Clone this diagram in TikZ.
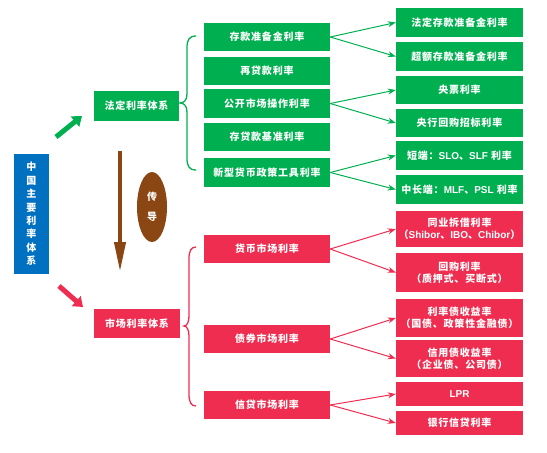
\documentclass[tikz,border=0pt]{standalone}
\usepackage{fontspec}
\setmainfont{Noto Sans CJK SC}[LetterSpace=8]
\newfontfamily\lat{Liberation Sans}
\usetikzlibrary{arrows.meta,shapes.geometric}
\definecolor{cgreen}{RGB}{0,176,80}
\definecolor{cred}{RGB}{239,45,80}
\definecolor{cblue}{RGB}{0,112,192}
\definecolor{cbrown}{RGB}{139,71,19}
\tikzset{
  box/.style={inner sep=0pt, text=white, font=\fontsize{10}{12}\selectfont\bfseries, align=center},
  gbox/.style={box, fill=cgreen},
  rbox/.style={box, fill=cred},
  lvtwo/.style={minimum width=126pt},
  lvthree/.style={minimum width=127pt},
  gcon/.style={draw=cgreen, line width=1pt, -{Stealth[length=8pt,width=6pt]}},
  rcon/.style={draw=cred, line width=1pt, -{Stealth[length=8pt,width=6pt]}},
  bigarrow/.style={line width=5pt, -{Triangle[length=9pt,width=13pt]}},
}
\begin{document}
\begin{tikzpicture}[x=1pt,y=-1pt]
\useasboundingbox (0,0) rectangle (547,453);
% root
\node[box, fill=cblue, minimum width=35pt, minimum height=120pt, font=\fontsize{10}{13.4}\selectfont\bfseries] (root) at (31.5,214) {中\\国\\主\\要\\利\\率\\体\\系};
% level 1
\node[gbox, minimum width=85pt, minimum height=30pt] (fd) at (136.5,106) {法定利率体系};
\node[rbox, minimum width=86pt, minimum height=29pt] (sc) at (137,323.5) {市场利率体系};
% level 2 green
\node[gbox, lvtwo, minimum height=28pt] (g1) at (267,37) {存款准备金利率};
\node[gbox, lvtwo, minimum height=28pt] (g2) at (267,71) {再贷款利率};
\node[gbox, lvtwo, minimum height=29pt] (g3) at (267,103.5) {公开市场操作利率};
\node[gbox, lvtwo, minimum height=28pt] (g4) at (267,137) {存贷款基准利率};
\node[gbox, lvtwo, minimum height=29pt] (g5) at (267,172.5) {新型货币政策工具利率};
% level 3 green
\node[gbox, lvthree, minimum height=29pt] (h1) at (459.5,22.5) {法定存款准备金利率};
\node[gbox, lvthree, minimum height=29pt] (h2) at (459.5,56.5) {超额存款准备金利率};
\node[gbox, lvthree, minimum height=28pt] (h3) at (459.5,90) {央票利率};
\node[gbox, lvthree, minimum height=28pt] (h4) at (459.5,123) {央行回购招标利率};
\node[gbox, lvthree, minimum height=29pt] (h5) at (459.5,155.5) {短端：{\lat SLO}、{\lat SLF} 利率};
\node[gbox, lvthree, minimum height=29pt] (h6) at (459.5,189.5) {中长端：{\lat MLF}、{\lat PSL} 利率};
% level 2 red
\node[rbox, lvtwo, minimum height=28pt] (r1) at (267,249) {货币市场利率};
\node[rbox, lvtwo, minimum height=28pt] (r2) at (267,339) {债券市场利率};
\node[rbox, lvtwo, minimum height=28pt] (r3) at (267,405) {信贷市场利率};
% level 3 red
\node[rbox, lvthree, minimum height=36pt] (s1) at (459.5,229) {同业拆借利率\\（{\lat Shibor}、{\lat IBO}、{\lat Chibor}）};
\node[rbox, lvthree, minimum height=39pt] (s2) at (459.5,272.5) {回购利率\\（质押式、买断式）};
\node[rbox, lvthree, minimum height=38pt] (s3) at (459.5,318) {利率债收益率\\（国债、政策性金融债）};
\node[rbox, lvthree, minimum height=37pt] (s4) at (459.5,358.5) {信用债收益率\\（企业债、公司债）};
\node[rbox, lvthree, minimum height=24pt] (s5) at (459.5,394) {{\lat LPR}};
\node[rbox, lvthree, minimum height=24pt] (s6) at (459.5,423) {银行信贷利率};
% transmission ellipse
\node[ellipse, fill=cbrown, inner sep=0pt, minimum width=30pt, minimum height=70pt, text=white, font=\fontsize{10}{20}\selectfont\bfseries, align=center] (cd) at (152,207) {传\\导};
% big arrows
\coordinate (ga1) at (56,137);
\coordinate (ga2) at (82,116);
\coordinate (ra1) at (59,286);
\coordinate (ra2) at (83,307);
\draw[bigarrow, draw=cgreen, fill=cgreen] (ga1) -- (ga2);
\draw[bigarrow, draw=cred, fill=cred] (ra1) -- (ra2);
\coordinate (ba1) at (120,151);
\coordinate (ba2) at (120,272);
\draw[draw=cbrown, fill=cbrown, line width=4pt, -{Triangle[length=30pt,width=11pt]}] (ba1) -- (ba2);
% braces
\draw[cgreen, line width=1.3pt] (196,36) .. controls (189,36) and (187,40) .. (187,48)
  -- (187,94) .. controls (187,100) and (184,103) .. (180,103)
  .. controls (184,103) and (187,106) .. (187,112)
  -- (187,158) .. controls (187,166) and (189,170) .. (196,170);
\draw[cred, line width=1.3pt] (196,247) .. controls (191,247) and (189,251) .. (189,259)
  -- (189,316) .. controls (189,322) and (187,326) .. (184,326)
  .. controls (187,326) and (189,330) .. (189,336)
  -- (189,394) .. controls (189,402) and (191,406) .. (196,406);
% connectors
\draw[gcon] (g1.east) -- (h1.west);
\draw[gcon] (g1.east) -- (h2.west);
\draw[gcon] (g3.east) -- (h3.west);
\draw[gcon] (g3.east) -- (h4.west);
\draw[gcon] (g5.east) -- (h5.west);
\draw[gcon] (g5.east) -- (h6.west);
\draw[rcon] (r1.east) -- (s1.west);
\draw[rcon] (r1.east) -- (s2.west);
\draw[rcon] (r2.east) -- (s3.west);
\draw[rcon] (r2.east) -- (s4.west);
\draw[rcon] (r3.east) -- (s5.west);
\draw[rcon] (r3.east) -- (s6.west);
\end{tikzpicture}
\end{document}
